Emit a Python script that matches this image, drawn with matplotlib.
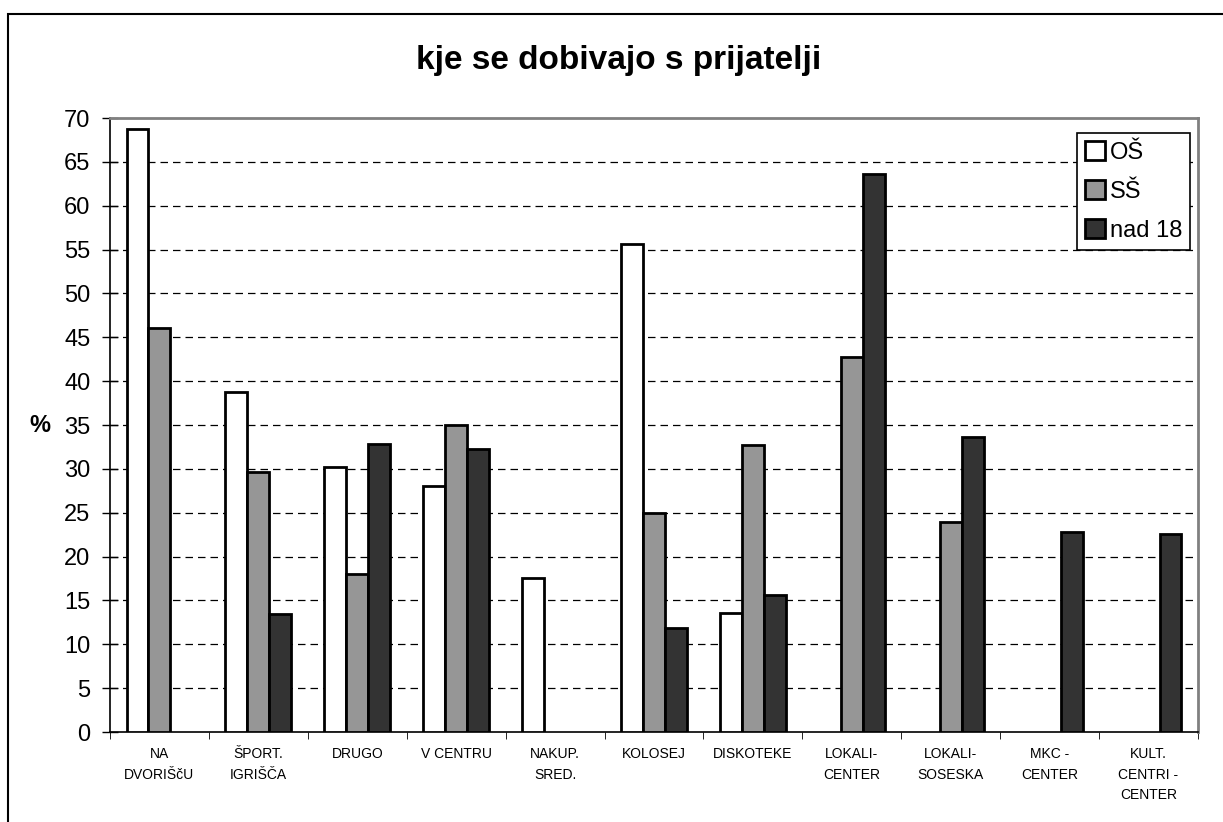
import matplotlib
matplotlib.use("Agg")
import matplotlib.pyplot as plt
import numpy as np
from matplotlib.patches import Rectangle

plt.rcParams['font.family'] = ['Liberation Sans', 'DejaVu Sans']

categories = ["NA\nDVORIŠčU", "ŠPORT.\nIGRIŠČA", "DRUGO", "V CENTRU", "NAKUP.\nSRED.",
              "KOLOSEJ", "DISKOTEKE", "LOKALI-\nCENTER", "LOKALI-\nSOSESKA", "MKC -\nCENTER",
              "KULT.\nCENTRI -\nCENTER"]
series_names = ["OŠ", "SŠ", "nad 18"]
os_vals = [68.8, 38.8, 30.2, 28.0, 17.6, 55.6, 13.6, 0, 0, 0, 0]
ss_vals = [46.1, 29.6, 18.0, 35.0, 0, 25.0, 32.7, 42.8, 23.9, 0, 0]
n18_vals = [0, 13.4, 32.8, 32.3, 0, 11.8, 15.6, 63.6, 33.6, 22.8, 22.6]
colors = ["#ffffff", "#969696", "#333333"]
yticks = list(range(0, 75, 5))

fig = plt.figure(figsize=(12.23, 8.22), dpi=100)
fig.patches.append(Rectangle((8/1223, -0.05), 1.1, (822-14)/822 + 0.05, transform=fig.transFigure,
                             fill=False, edgecolor='black', linewidth=1.5))
ax = fig.add_axes([110/1223, 90/822, 1088/1223, 614/822])

x = np.arange(len(categories))
w = 0.222
for i, (vals, c, name) in enumerate(zip([os_vals, ss_vals, n18_vals], colors, series_names)):
    v = np.array(vals, dtype=float)
    mask = v > 0
    ax.bar(x[mask] + (i - 1) * w, v[mask], width=w, color=c, edgecolor='black',
           linewidth=2, label=name, zorder=3)

ax.set_xlim(-0.5, len(categories) - 0.5)
ax.set_ylim(0, 70)
ax.set_yticks(yticks)
ax.set_yticklabels([str(t) for t in yticks], fontsize=17)
for t in yticks[1:-1]:
    ax.axhline(t, color='black', linestyle=(0, (6, 4)), linewidth=0.9, zorder=1)

ax.set_xticks(x)
ax.set_xticklabels(categories, fontsize=10, linespacing=1.6, va='top')
ax.set_xticks(np.arange(-0.5, len(categories), 1), minor=True)
ax.tick_params(axis='x', which='major', length=0, pad=11)
ax.tick_params(axis='x', which='minor', length=5, direction='out', color='black')
ax.tick_params(axis='y', direction='inout', length=12, width=1, pad=8)

for s in ['top', 'right']:
    ax.spines[s].set_color('#808080')
    ax.spines[s].set_linewidth(2)
ax.spines['left'].set_color('black')
ax.spines['bottom'].set_color('black')
ax.spines['left'].set_linewidth(1.2)
ax.spines['bottom'].set_linewidth(1.2)

fig.text(40/1223, 1 - 425/822, "%", fontsize=17, fontweight='bold', ha='center', va='center')
fig.text(619/1223, 1 - 60/822, "kje se dobivajo s prijatelji", fontsize=24, fontweight='bold',
         ha='center', va='center')

leg = ax.legend(loc='upper right', bbox_to_anchor=(0.993, 0.976), fontsize=17, frameon=True,
                fancybox=False, edgecolor='black', framealpha=1, handlelength=0.85,
                handleheight=0.85, handletextpad=0.2, borderpad=0.35, labelspacing=0.7,
                borderaxespad=0)
leg.get_frame().set_linewidth(1.2)
leg.set_zorder(5)

fig.savefig("out.png", dpi=100)
